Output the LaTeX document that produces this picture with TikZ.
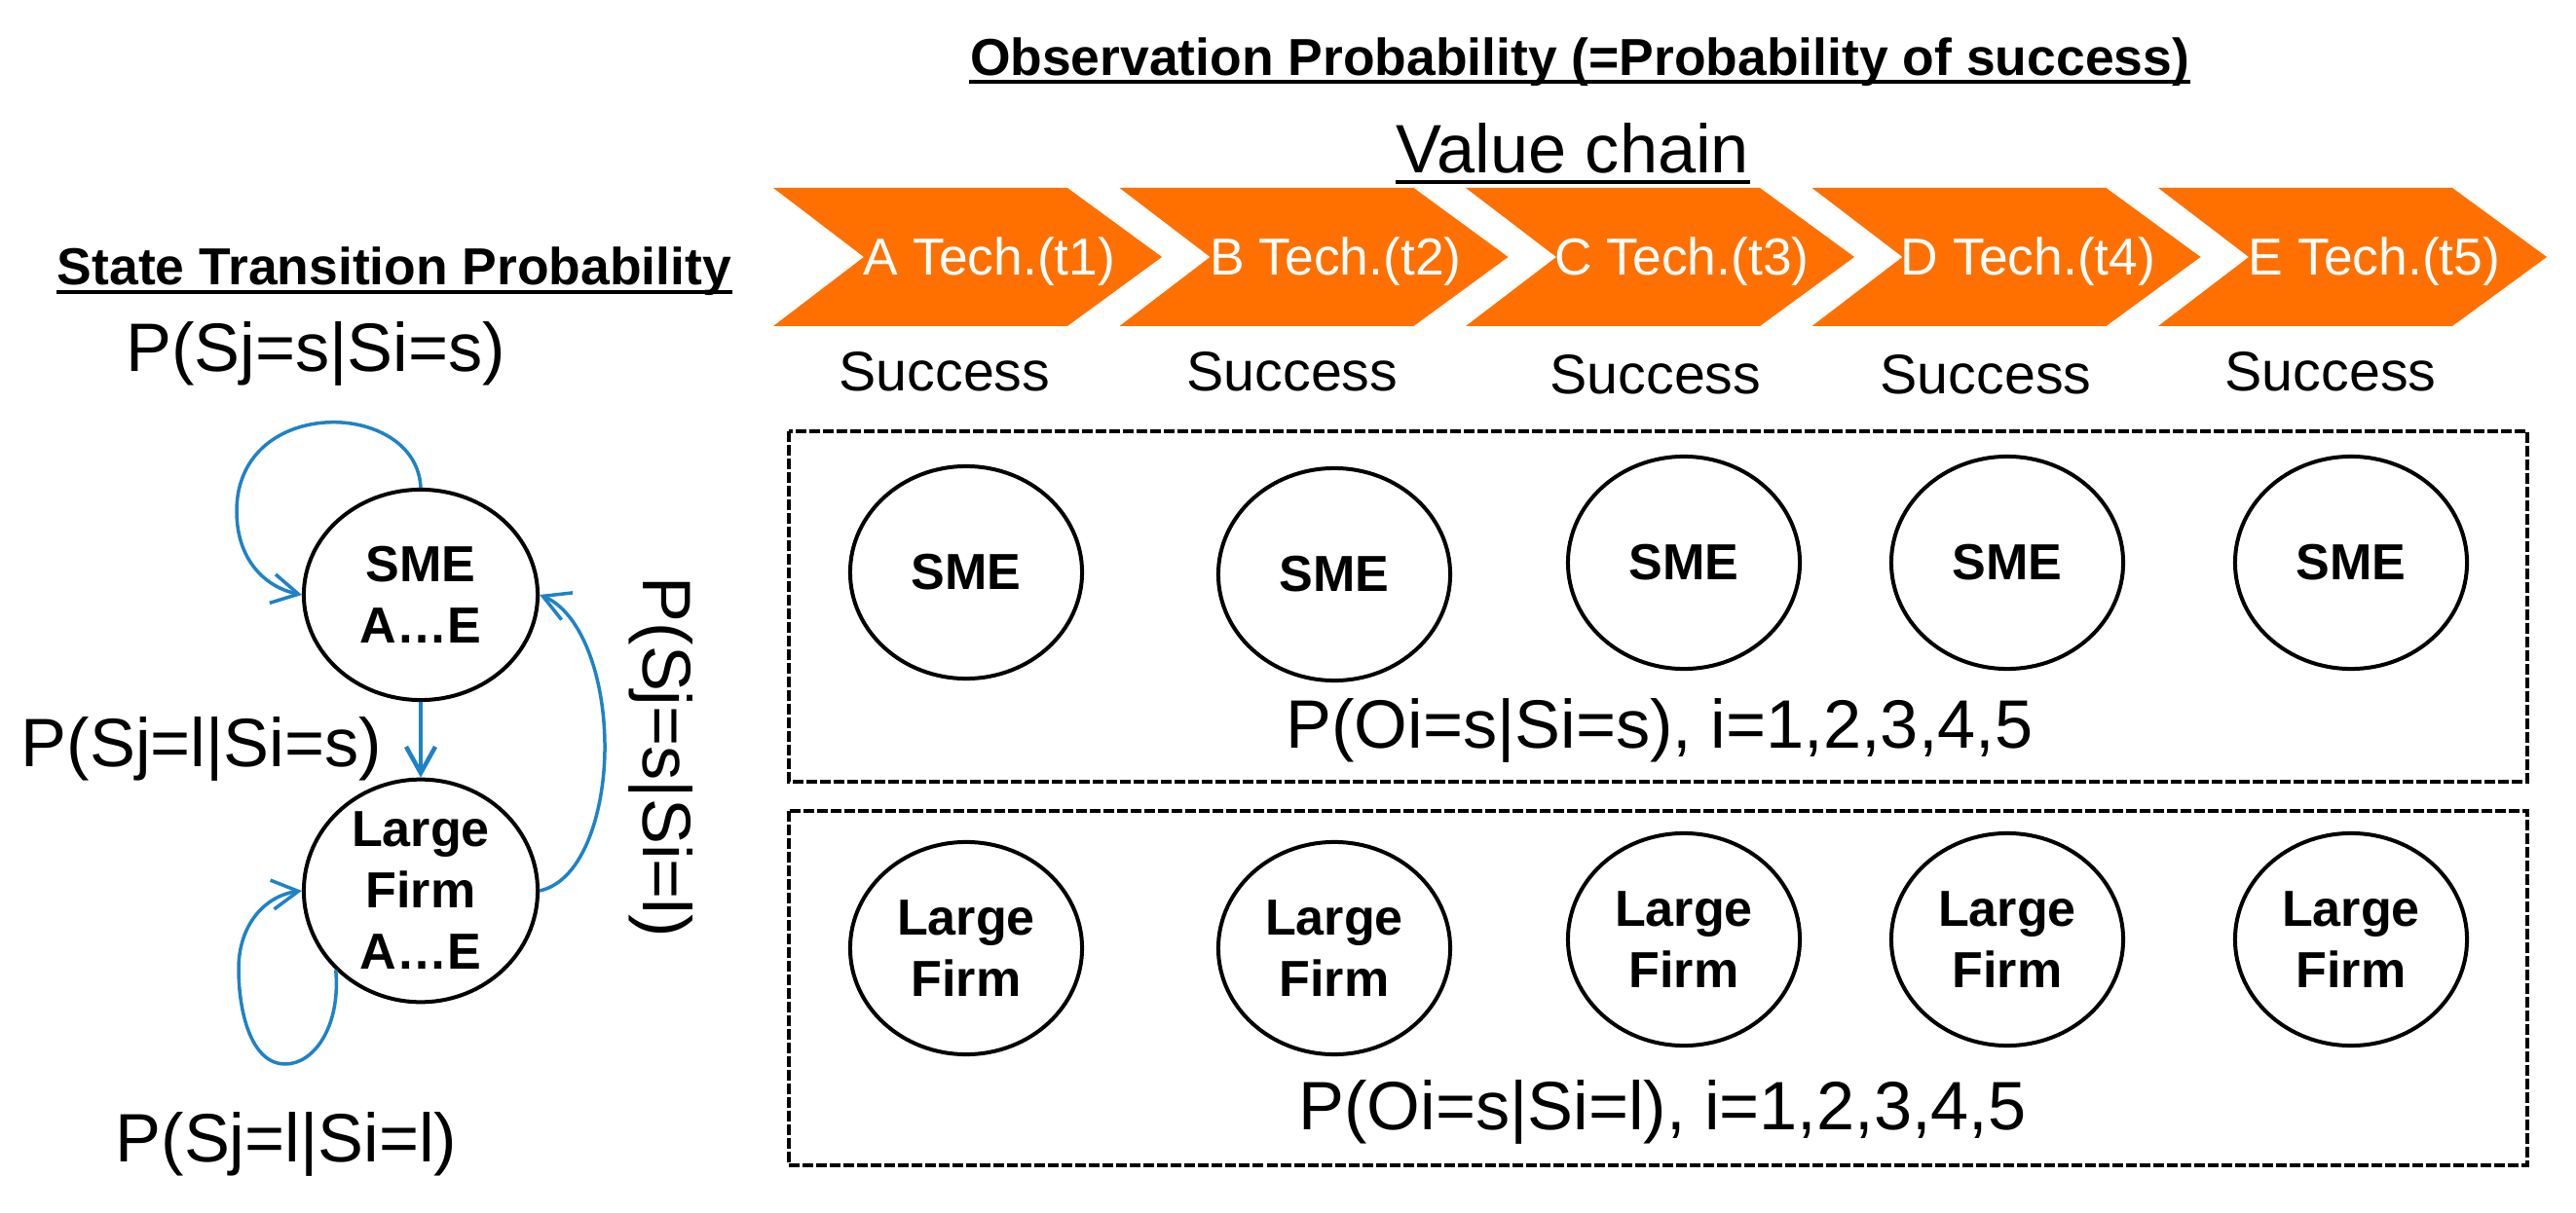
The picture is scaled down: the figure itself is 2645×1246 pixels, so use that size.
\documentclass[tikz,border=0pt]{standalone}
\usepackage{fontspec}
\setmainfont{Liberation Sans}
\usetikzlibrary{shapes.geometric,arrows.meta}
\definecolor{chevorange}{RGB}{255,112,0}
\definecolor{arcblue}{RGB}{30,130,200}
\begin{document}
\begin{tikzpicture}[x=0.01cm,y=-0.01cm,
  titletxt/.style={inner sep=0pt, anchor=base, font=\fontsize{15.2}{18}\selectfont\bfseries},
  bigtxt/.style={inner sep=0pt, anchor=base, font=\fontsize{20}{24}\selectfont},
  chevtxt/.style={inner sep=0pt, anchor=base, text=white, font=\fontsize{15.2}{18}\selectfont},
  succtxt/.style={inner sep=0pt, anchor=base, font=\fontsize{16.3}{19}\selectfont},
  state/.style={draw, ellipse, line width=0.04cm, minimum width=2.4cm, minimum height=2.16cm,
    inner sep=0pt, align=center, font=\fontsize{14.8}{17.9}\selectfont\bfseries},
  obsnode/.style={state, minimum width=2.38cm, minimum height=2.18cm},
  dbox/.style={draw, line width=0.045cm, dash pattern=on 0.11cm off 0.03cm},
  uline/.style={line width=0.045cm},
  trans/.style={draw=arcblue, line width=0.035cm, -{Straight Barb[length=0.27cm,width=0.3cm]}},
]
\useasboundingbox (0,0) rectangle (2645,1246);

% titles
\node[titletxt] (obs) at (1622,78) {Observation Probability (=Probability of success)};
\draw[uline] ([yshift=-0.06cm]obs.base west) -- ([yshift=-0.06cm]obs.base east);
\node[bigtxt] (vchain) at (1615,178) {Value chain};
\draw[uline] ([yshift=-0.09cm]vchain.base west) -- ([yshift=-0.09cm]vchain.base east);
\node[titletxt] (stp) at (405,293) {State Transition Probability};
\draw[uline] ([yshift=-0.07cm]stp.base west) -- ([yshift=-0.07cm]stp.base east);

% chevrons
\foreach \i/\lab in {0/A,1/B,2/C,3/D,4/E}{
  \pgfmathsetmacro\L{794+355.5*\i}
  \pgfmathtruncatemacro\n{\i+1}
  \fill[chevorange] (\L,193) -- ++(302,0) -- ++(97,71) -- ++(-97,71) -- ++(-302,0) -- ++(93,-71) -- cycle;
  \node[chevtxt] (ch\n) at (\L+222,283) {\lab\ Tech.(t\n)};
}

% success labels
\foreach \x/\y [count=\k] in {970/402,1327/402,1700/405,2039/405,2393/402}
  \node[succtxt] (succ\k) at (\x,\y) {Success};

% observation boxes
\draw[dbox] (810,443) rectangle (2595,803);
\draw[dbox] (810,833) rectangle (2595,1197);
\foreach \x/\y [count=\k] in {992/588,1370/590,1729/578,2061/578,2414/578}
  \node[obsnode] (osme\k) at (\x,\y) {SME};
\foreach \x/\y [count=\k] in {992/974,1370/974,1729/965,2061/965,2414/965}
  \node[obsnode] (olf\k) at (\x,\y) {Large\\Firm};
\node[bigtxt] (pos) at (1704,768) {P(Oi=s|Si=s), i=1,2,3,4,5};
\node[bigtxt] (pol) at (1707,1160) {P(Oi=s|Si=l), i=1,2,3,4,5};

% state transition graph
\node[state] (sme) at (432,611) {SME\\A…E};
\node[state] (lf) at (432,915) {Large\\Firm\\A…E};
\node[bigtxt] (pss) at (324,382) {P(Sj=s|Si=s)};
\node[bigtxt] (pls) at (207,787) {P(Sj=l|Si=s)};
\node[bigtxt] (pll) at (294,1193) {P(Sj=l|Si=l)};
\node[bigtxt, rotate=-90, anchor=base west] (psl) at (660,592) {P(Sj=s|Si=l)};

\draw[trans, line width=0.045cm] (sme.south) -- (lf.north);
\draw[trans] (sme.north) .. controls (428,410) and (243,405) .. (243,525)
  .. controls (243,575) and (272,603) .. (sme.west);
\draw[trans] (lf.223) .. controls (350,1055) and (322,1093) .. (293,1093)
  .. controls (258,1093) and (245,1040) .. (245,995)
  .. controls (245,950) and (272,920) .. (lf.west);
\draw[trans] (lf.east) .. controls (600,905) and (622,830) .. (621,763)
  .. controls (620,690) and (595,628) .. (sme.east);
\end{tikzpicture}
\end{document}
